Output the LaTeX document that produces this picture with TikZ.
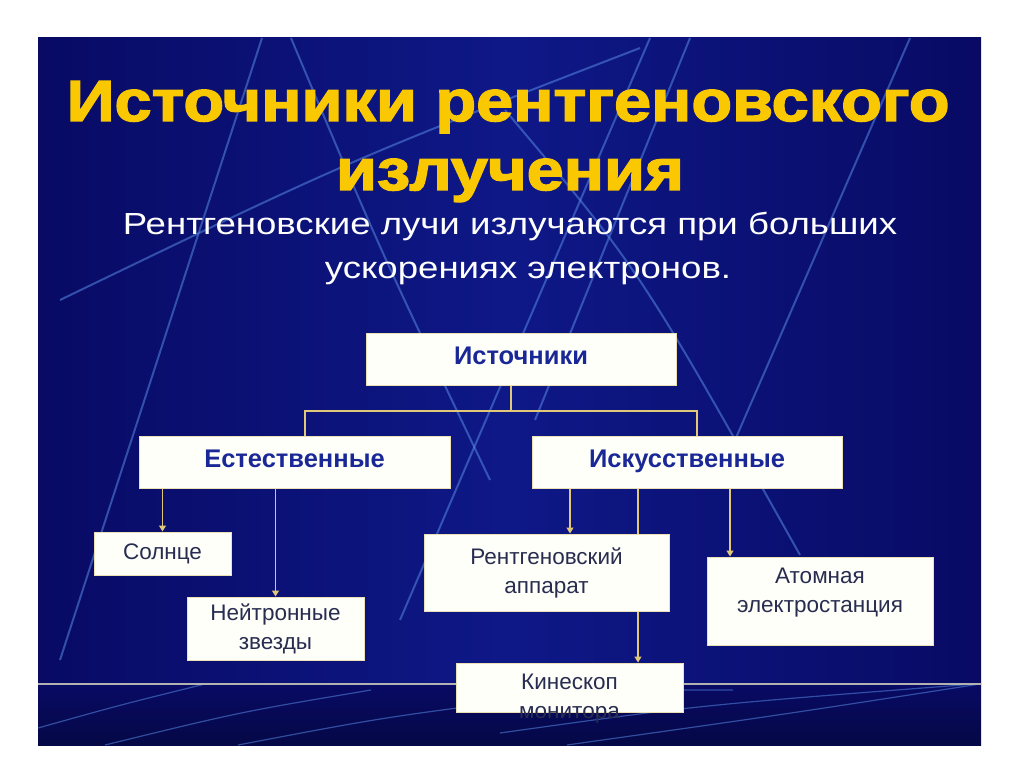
\documentclass[tikz,border=0pt]{standalone}
\usepackage{fontspec}
\setmainfont{Liberation Sans}
\newfontfamily\titlefont{Liberation Sans}[BoldFeatures={FakeBold=2.5,FakeStretch=1.15}]
\newfontfamily\subfont{Liberation Sans}[FakeStretch=1.2]
\usetikzlibrary{arrows.meta}

\definecolor{slideout}{RGB}{8,10,100}
\definecolor{slidemid}{RGB}{14,24,135}
\definecolor{bandcol}{RGB}{5,8,70}
\definecolor{beamcol}{RGB}{85,135,225}
\definecolor{boxfill}{RGB}{255,255,250}
\definecolor{boxline}{RGB}{235,225,180}
\definecolor{wire}{RGB}{225,200,120}
\definecolor{headtext}{RGB}{25,40,150}
\definecolor{boxtext}{RGB}{40,45,80}
\definecolor{titlecol}{RGB}{250,200,0}

\begin{document}
\begin{tikzpicture}[x=1pt, y=-1pt,
  box/.style={draw=boxline, fill=boxfill, line width=1pt, inner sep=0pt,
    align=center, text=boxtext, font=\fontsize{22.5}{29}\selectfont},
  boxtxt/.style={inner sep=0pt, align=center, text=boxtext,
    font=\fontsize{22.5}{29}\selectfont},
  head/.style={box, text=headtext, text height=18pt, text depth=8pt,
    font=\fontsize{25.5}{30}\selectfont\bfseries},
  beam/.style={draw=beamcol, line width=2pt, opacity=0.55},
  link/.style={draw=wire, line width=1.2pt},
  feed/.style={link, -{Triangle[width=7pt,length=6pt]}}]
  \useasboundingbox (0,0) rectangle (1024,767);
  \fill[white] (0,0) rectangle (1024,767);

  % slide background
  \shade[left color=slideout, right color=slideout, middle color=slidemid]
    (38,38) rectangle (981,684);
  \shade[top color=slideout, bottom color=bandcol] (38,684) rectangle (981,745);
  \begin{scope}
    \clip (38,38) rectangle (981,745);
    \draw[beam] (262,38) -- (60,660);
    \draw[beam] (291,38) .. controls (380,250) .. (490,480);
    \draw[beam] (60,300) .. controls (350,160) .. (640,48);
    \draw[beam] (505,110) .. controls (640,270) .. (800,555);
    \draw[beam] (690,38) -- (535,420);
    \draw[beam] (650,38) -- (400,620);
    \draw[beam] (910,38) -- (735,440);
    \draw[beam, line width=1.2pt] (38,728) .. controls (120,705) .. (205,684);
    \draw[beam, line width=1.2pt] (105,745) .. controls (240,712) .. (371,690);
    \draw[beam, line width=1.2pt] (238,745) .. controls (380,718) .. (518,700)
      .. controls (620,690) .. (733,690);
    \draw[beam, line width=1.2pt] (500,733) .. controls (700,705) .. (975,684);
    \draw[beam, line width=1.2pt] (567,745) .. controls (780,715) .. (980,684);
    \draw[draw=gray!60, line width=1.5pt] (38,684) -- (981,684);
  \end{scope}

  % titles
  \node[anchor=base, text=titlecol, font=\titlefont\fontsize{58}{64}\selectfont\bfseries]
    (title1) at (508,121) {Источники рентгеновского};
  \node[anchor=base, text=titlecol, font=\titlefont\fontsize{58}{64}\selectfont\bfseries]
    (title2) at (510,190) {излучения};
  \node[anchor=base, text=white, font=\subfont\fontsize{30.5}{36}\selectfont]
    (sub1) at (510,235) {Рентгеновские лучи излучаются при больших};
  \node[anchor=base, text=white, font=\subfont\fontsize{30.5}{36}\selectfont]
    (sub2) at (528,278) {ускорениях электронов.};

  % boxes
  \node[head, minimum width=310pt, minimum height=52pt] (src) at (521,359) {Источники};
  \node[head, minimum width=311pt, minimum height=52pt] (nat) at (294.5,462) {Естественные};
  \node[head, minimum width=310pt, minimum height=52pt] (art) at (687,462) {Искусственные};
  \node[box, minimum width=137pt, minimum height=43pt] (sun) at (162.5,553.5) {Солнце};
  \node[box, minimum width=177pt, minimum height=63pt] (neu) at (275.5,628.5) {Нейтронные\\звезды};
  \node[box, minimum width=245pt, minimum height=77pt] (xray) at (546.5,572.5) {Рентгеновский\\аппарат};
  \node[box, minimum width=226pt, minimum height=88pt] (atom) at (820,601) {};
  \node[boxtxt] (atomtxt) at (820,592.5) {Атомная\\электростанция};
  \node[box, minimum width=227pt, minimum height=49pt] (kin) at (569.5,687.5) {};
  \node[boxtxt] (kintxt) at (569.5,698.5) {Кинескоп\\монитора};

  % connectors
  \coordinate (bus) at (511,411);
  \draw[link] ([xshift=-10pt]src.south) -- ([xshift=-10pt]src.south |- bus);
  \draw[link] ([xshift=10.5pt]nat.north) |- (bus) -| ([xshift=10pt]art.north);
  \draw[feed] (sun.north |- nat.south) -- (sun.north);
  \draw[feed] (neu.north |- nat.south) -- (neu.north);
  \draw[feed] ([xshift=23.5pt]xray.north |- art.south) -- ([xshift=23.5pt]xray.north);
  \draw[link] ([xshift=91.5pt]xray.north |- art.south) -- ([xshift=91.5pt]xray.north);
  \draw[feed] ([xshift=68.5pt]kin.north |- xray.south) -- ([xshift=68.5pt]kin.north);
  \draw[feed] ([xshift=-90pt]atom.north |- art.south) -- ([xshift=-90pt]atom.north);
\end{tikzpicture}
\end{document}
